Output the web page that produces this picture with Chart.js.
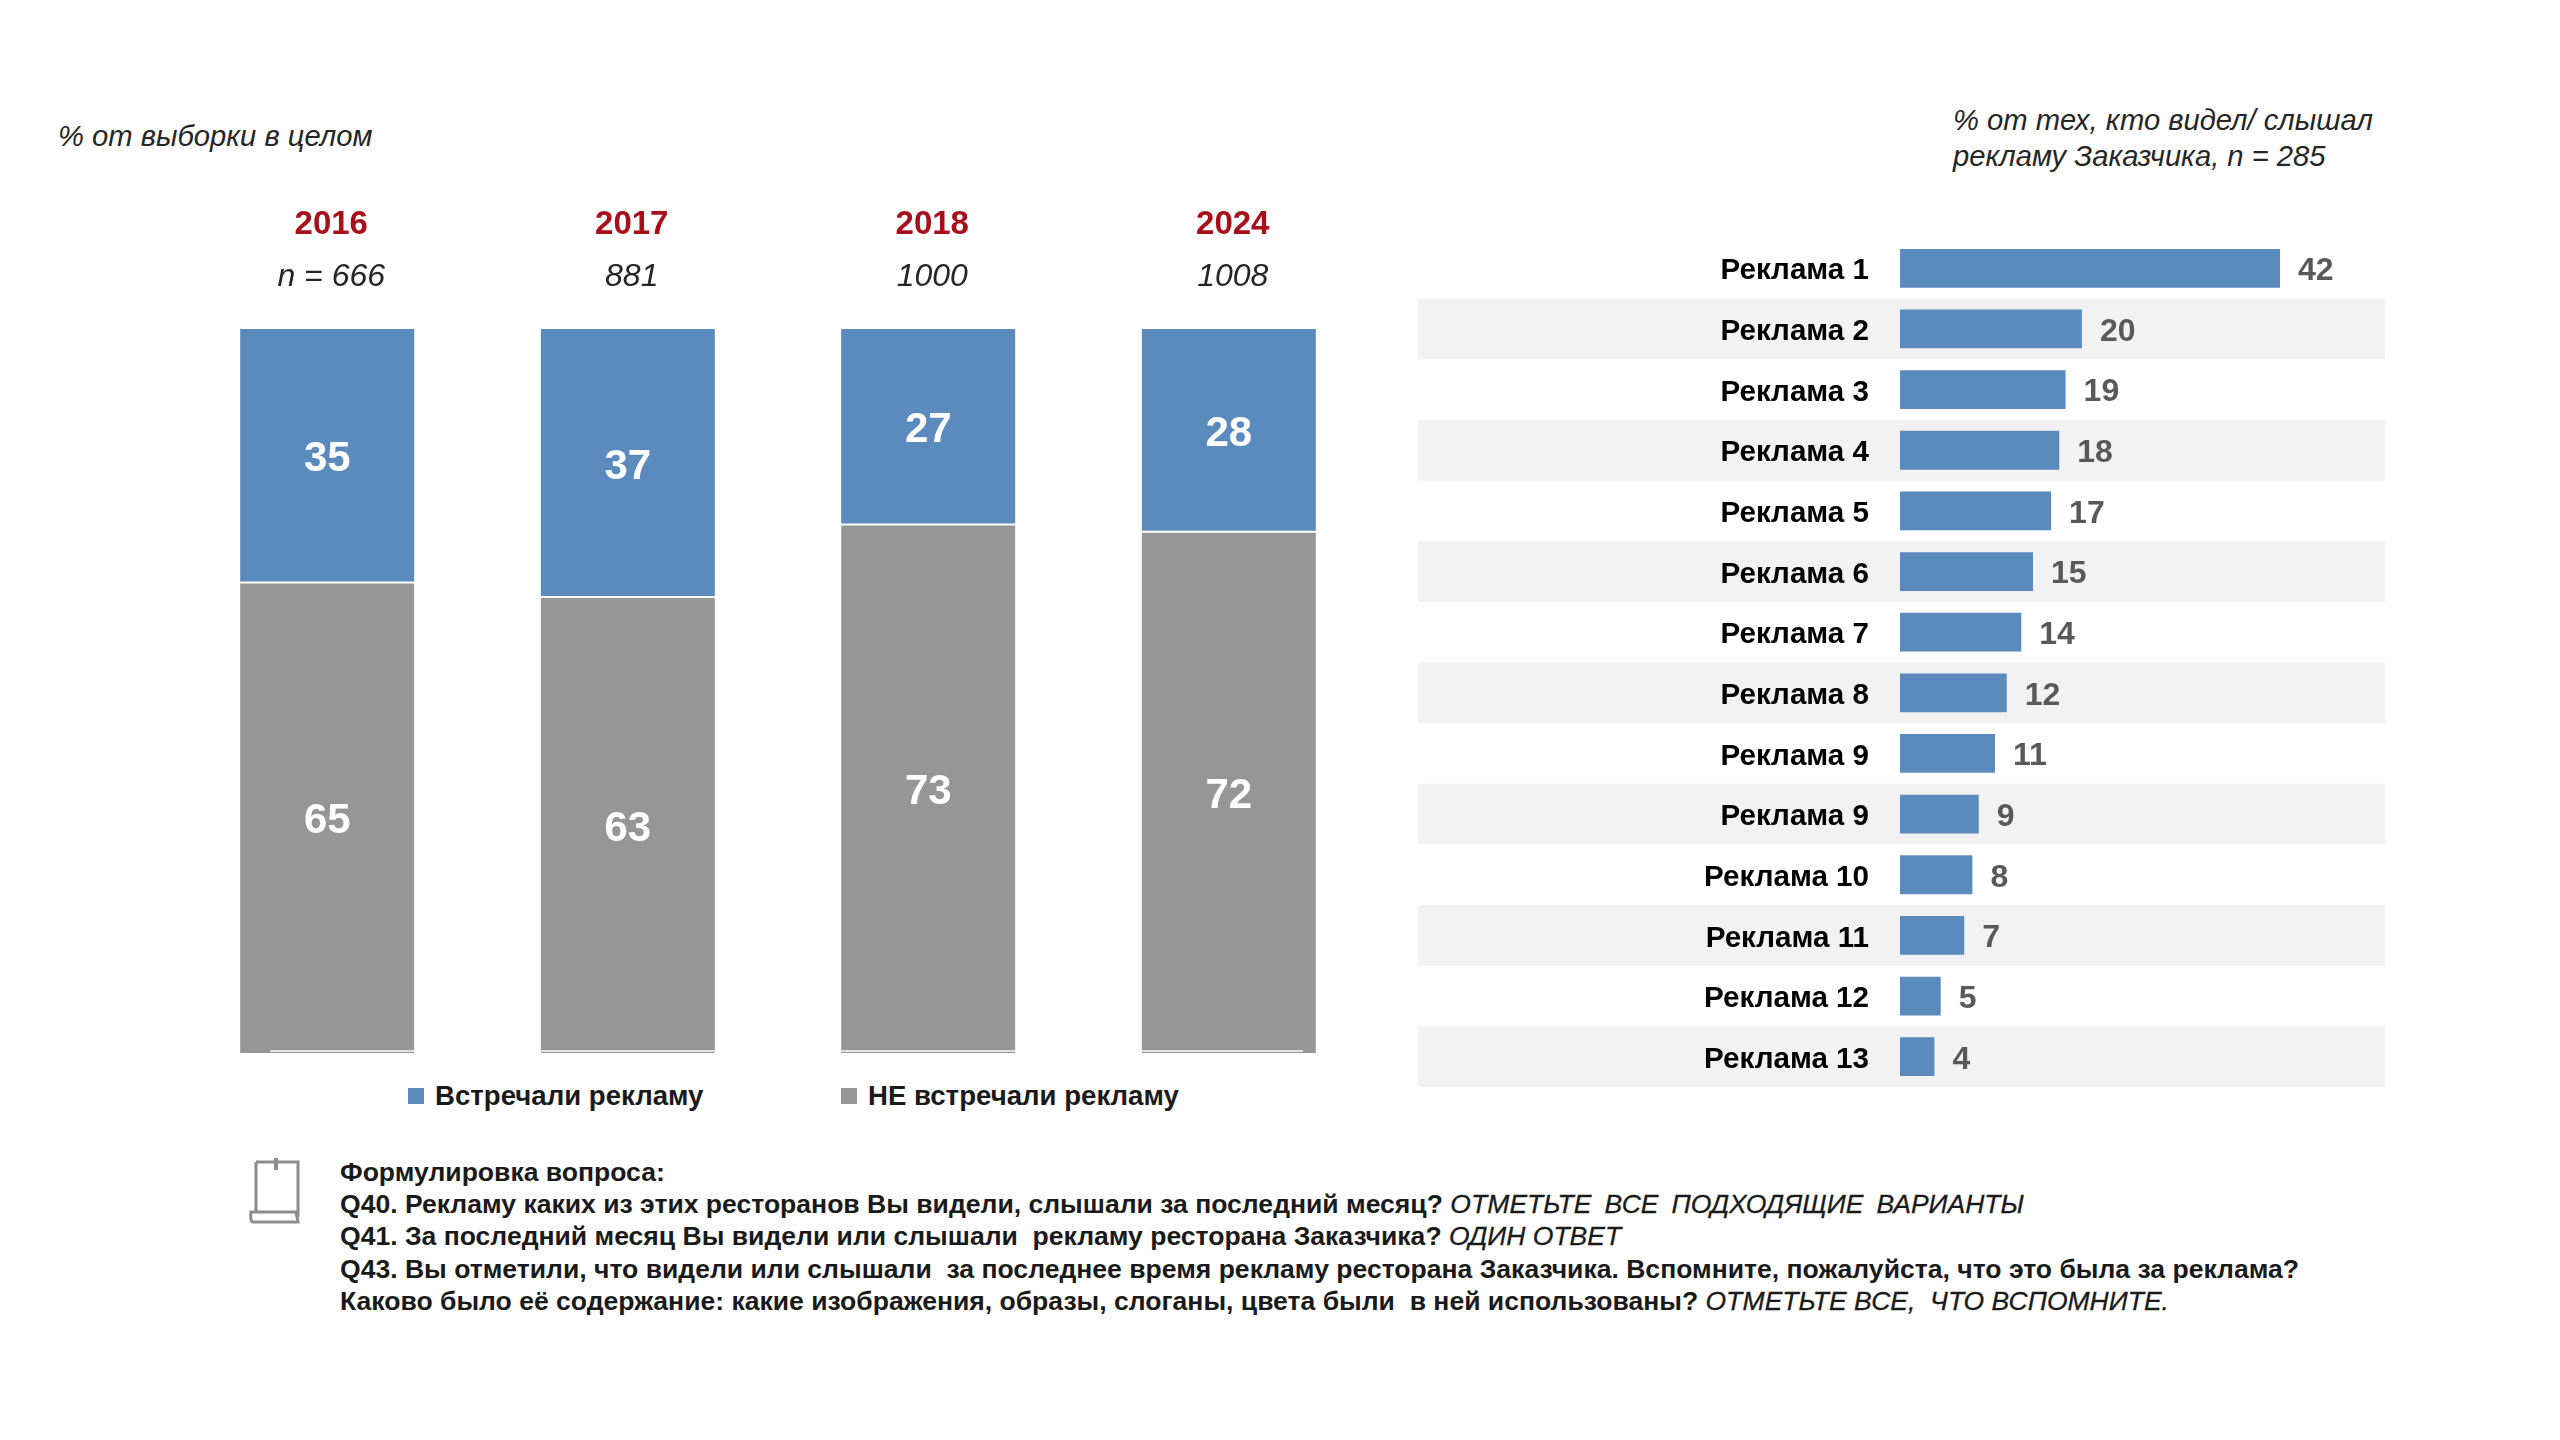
<!DOCTYPE html>
<html>

<head>
  <meta charset="utf-8">
  <title>Реклама</title>
  <script type="text/javascript" src="https://cdn.jsdelivr.net/npm/chart.js"></script>
  <style>
    html, body { margin: 0; padding: 0; background: #fff; width: 2560px; height: 1440px; overflow: hidden; }
    body { position: relative; font-family: "Liberation Sans", Arial, sans-serif; color: #1a1a1a; }
    canvas { position: absolute; display: block; }
    #left-chart { left: 170px; top: 195px; }
    #right-chart { left: 1418px; top: 238px; }
    .note { position: absolute; font-style: italic; font-size: 29.2px; line-height: 36px; color: #262626; white-space: nowrap; }
    #note-left { left: 58px; top: 118px; }
    #note-right { left: 1953px; top: 102px; }
    #legend { position: absolute; top: 1078px; left: 0; height: 36px; font-size: 27.6px; font-weight: bold; line-height: 36px; color: #1a1a1a; }
    #legend span { position: absolute; white-space: nowrap; }
    #legend i { position: absolute; top: 10px; width: 16px; height: 16px; }
    #question { position: absolute; left: 340px; top: 1156px; font-size: 26.55px; font-weight: bold; line-height: 32.2px; white-space: pre; color: #1a1a1a; }
    #question em { font-size: 26.5px; font-weight: normal; -webkit-text-stroke: 0.3px #1a1a1a; }
    #question em.wide { word-spacing: 5.7px; }
    #icon { position: absolute; left: 248px; top: 1156px; }
  </style>
</head>

<body>

  <div class="note" id="note-left">% от выборки в целом</div>
  <div class="note" id="note-right">% от тех, кто видел/ слышал<br>рекламу Заказчика, n = 285</div>

  <canvas id="left-chart" width="1246" height="862"></canvas>
  <canvas id="right-chart" width="967" height="849"></canvas>

  <div id="legend"></div>

  <svg id="icon" width="56" height="68" viewBox="0 0 56 68" fill="none" stroke="#8c8c8c" stroke-width="3">
    <path d="M8 6 H50 V61 M8 6 V56 M3 56 H48 L50 66 H5 Q2 66 3 56 Z"/>
    <path d="M28 2 V14" stroke-width="4"/>
  </svg>

  <div id="question">Формулировка вопроса:
Q40. Рекламу каких из этих ресторанов Вы видели, слышали за последний месяц? <em class="wide">ОТМЕТЬТЕ ВСЕ ПОДХОДЯЩИЕ ВАРИАНТЫ</em>
Q41. За последний месяц Вы видели или слышали  рекламу ресторана Заказчика? <em>ОДИН ОТВЕТ</em>
Q43. Вы отметили, что видели или слышали  за последнее время рекламу ресторана Заказчика. Вспомните, пожалуйста, что это была за реклама?
Каково было её содержание: какие изображения, образы, слоганы, цвета были  в ней использованы? <em>ОТМЕТЬТЕ ВСЕ,  ЧТО ВСПОМНИТЕ.</em></div>

  <script type="text/javascript">
    const BLUE = "#5b8bbd";
    const GRAY = "#969696";

    const years = ["2016", "2017", "2018", "2024"];
    const sampleSizes = ["n = 666", "881", "1000", "1008"];
    const seenAds = [35, 37, 27, 28];
    const notSeenAds = [65, 63, 73, 72];
    const seriesNames = ["Встречали рекламу", "НЕ встречали рекламу"];

    const adNames = ["Реклама 1", "Реклама 2", "Реклама 3", "Реклама 4", "Реклама 5", "Реклама 6", "Реклама 7",
                     "Реклама 8", "Реклама 9", "Реклама 9", "Реклама 10", "Реклама 11", "Реклама 12", "Реклама 13"];
    // bar lengths as measured on the picture, the printed labels are rounded differently
    const adValues = [42, 20.1, 18.3, 17.6, 16.7, 14.7, 13.4, 11.8, 10.5, 8.7, 8, 7.1, 4.5, 3.8];
    const adLabels = ["42", "20", "19", "18", "17", "15", "14", "12", "11", "9", "8", "7", "5", "4"];

    // numbers inside the stacked bars
    const insideLabels = {
        id: "insideLabels",
        afterDatasetsDraw(chart) {
            const ctx = chart.ctx;
            ctx.save();
            ctx.font = "bold 42px 'Liberation Sans'";
            ctx.fillStyle = "#fff";
            ctx.textAlign = "center";
            ctx.textBaseline = "middle";
            chart.data.datasets.forEach((ds, i) => {
                chart.getDatasetMeta(i).data.forEach((bar, j) => {
                    const c = bar.getCenterPoint();
                    ctx.fillText(ds.data[j], c.x, c.y + 4);
                });
            });
            ctx.restore();
        }
    };

    // thin light line at the foot of the grey bars
    const footLines = {
        id: "footLines",
        afterDatasetsDraw(chart) {
            const ctx = chart.ctx;
            const insetLeft = [30, 0, 0, 0];
            const insetRight = [0, 0, 0, 13];
            ctx.save();
            ctx.fillStyle = "#e4e4e4";
            chart.getDatasetMeta(1).data.forEach((bar, j) => {
                const left = bar.x - bar.width / 2 + insetLeft[j];
                const right = bar.x + bar.width / 2 - insetRight[j];
                ctx.fillRect(left, chart.chartArea.bottom - 3, right - left, 2);
            });
            ctx.restore();
        }
    };

    new Chart(document.getElementById("left-chart"), {
        type: "bar",
        data: {
            labels: years,
            datasets: [
                { label: seriesNames[0], data: seenAds, backgroundColor: BLUE, borderColor: "#fff", borderWidth: { bottom: 1 }, borderSkipped: false },
                { label: seriesNames[1], data: notSeenAds, backgroundColor: GRAY, borderColor: "#fff", borderWidth: { top: 1 }, borderSkipped: false }
            ]
        },
        options: {
            responsive: false,
            animation: false,
            devicePixelRatio: 1,
            layout: { padding: { left: 7, right: 37, top: 0, bottom: 4 } },
            datasets: { bar: { barPercentage: 0.58, categoryPercentage: 1 } },
            plugins: { legend: { display: false }, tooltip: { enabled: false } },
            scales: {
                x: {
                    position: "top",
                    stacked: true,
                    weight: 2,
                    afterFit(scale) { scale.height = 60; },
                    grid: { display: false, drawTicks: false },
                    border: { display: false },
                    ticks: { color: "#a80f1a", font: { family: "Liberation Sans", size: 33, weight: "bold" }, padding: 10, labelOffset: 4, maxRotation: 0, autoSkip: false }
                },
                n: {
                    type: "category",
                    labels: sampleSizes,
                    position: "top",
                    offset: true,
                    weight: 1,
                    afterFit(scale) { scale.height = 74; },
                    grid: { display: false, drawTicks: false },
                    border: { display: false },
                    ticks: { color: "#262626", font: { family: "Liberation Sans", size: 32, style: "italic" }, padding: 33, labelOffset: 4, maxRotation: 0, autoSkip: false }
                },
                y: { display: false, stacked: true, reverse: true, min: 0, max: 100 }
            }
        },
        plugins: [insideLabels, footLines]
    });

    // grey stripes on every other row, drawn before the axis so the labels stay on top
    const rowStripes = {
        id: "rowStripes",
        beforeDraw(chart) {
            const ctx = chart.ctx;
            const y = chart.scales.y;
            const half = (y.getPixelForValue(1) - y.getPixelForValue(0)) / 2;
            ctx.save();
            ctx.fillStyle = "#f2f2f2";
            adNames.forEach((name, i) => {
                if (i % 2 === 1) ctx.fillRect(0, y.getPixelForValue(i) - half, chart.width, half * 2);
            });
            ctx.restore();
        }
    };
    const endLabels = {
        id: "endLabels",
        afterDatasetsDraw(chart) {
            const ctx = chart.ctx;
            ctx.save();
            ctx.font = "bold 32px 'Liberation Sans'";
            ctx.fillStyle = "#595959";
            ctx.textAlign = "left";
            ctx.textBaseline = "middle";
            chart.getDatasetMeta(0).data.forEach((bar, i) => {
                ctx.fillText(adLabels[i], bar.x + 18, bar.y + 3);
            });
            ctx.restore();
        }
    };

    new Chart(document.getElementById("right-chart"), {
        type: "bar",
        data: {
            labels: adNames,
            datasets: [{ data: adValues, backgroundColor: BLUE, barPercentage: 0.64, categoryPercentage: 1 }]
        },
        options: {
            indexAxis: "y",
            responsive: false,
            animation: false,
            devicePixelRatio: 1,
            plugins: { legend: { display: false }, tooltip: { enabled: false } },
            scales: {
                x: { display: false, min: 0, max: 53.6 },
                y: {
                    // tick padding would otherwise also be added above and below the plot
                    afterFit(scale) { scale.width = 482; scale.paddingTop = 0; scale.paddingBottom = 0; },
                    grid: { display: false, drawTicks: false },
                    border: { display: false },
                    ticks: { color: "#000", font: { family: "Liberation Sans", size: 29.6, weight: "bold" }, padding: 31, labelOffset: 3, autoSkip: false }
                }
            }
        },
        plugins: [rowStripes, endLabels]
    });

    // html legend, the two entries sit much further apart than the built-in one allows
    const legend = document.getElementById("legend");
    [[408, BLUE], [841, GRAY]].forEach((entry, i) => {
        const box = document.createElement("i");
        box.style.left = entry[0] + "px";
        box.style.background = entry[1];
        legend.appendChild(box);
        const text = document.createElement("span");
        text.style.left = (entry[0] + 27) + "px";
        text.textContent = seriesNames[i];
        legend.appendChild(text);
    });
  </script>

</body>

</html>
